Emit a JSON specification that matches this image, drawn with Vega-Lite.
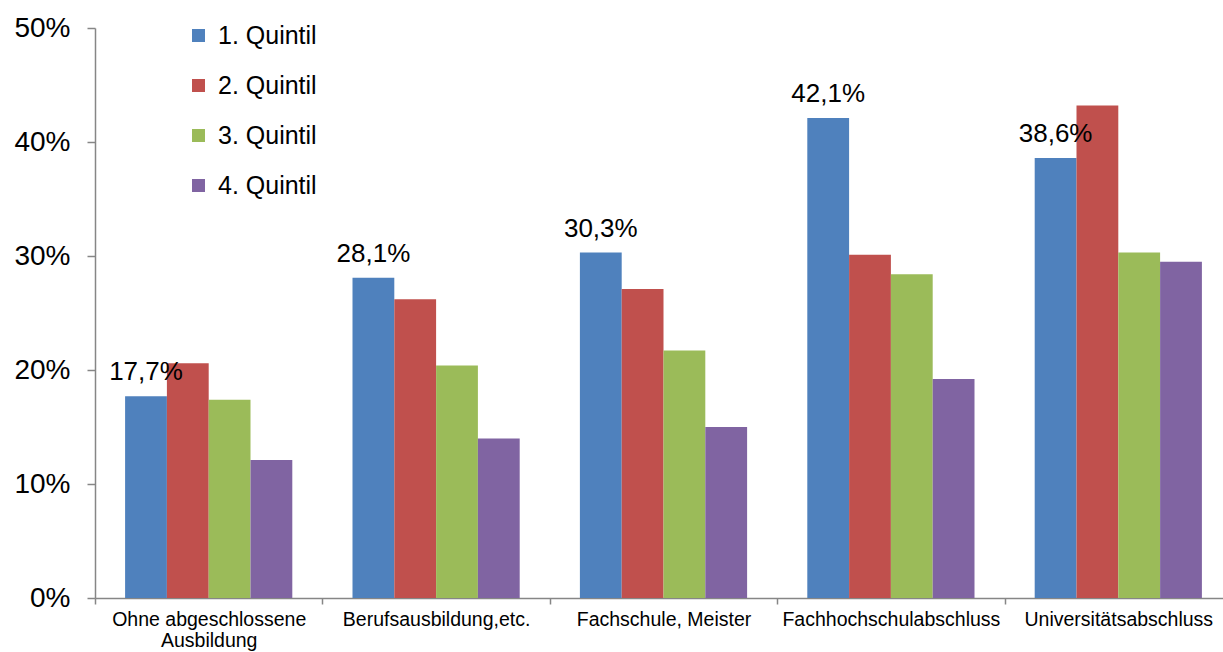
{
  "$schema": "https://vega.github.io/schema/vega-lite/v6.json",
  "width": 1128,
  "height": 570,
  "autosize": {"type": "none"},
  "padding": {"left": 95, "top": 28, "right": 0, "bottom": 54},
  "background": "white",
  "config": {
    "view": {"stroke": null},
    "font": "Liberation Sans",
    "text": {"font": "Liberation Sans"}
  },
  "data": {
    "values": [
      {"g": "Ohne abgeschlossene Ausbildung", "q": "1. Quintil", "v": 0.177, "label": "17,7%"},
      {"g": "Ohne abgeschlossene Ausbildung", "q": "2. Quintil", "v": 0.206, "label": ""},
      {"g": "Ohne abgeschlossene Ausbildung", "q": "3. Quintil", "v": 0.174, "label": ""},
      {"g": "Ohne abgeschlossene Ausbildung", "q": "4. Quintil", "v": 0.121, "label": ""},
      {"g": "Berufsausbildung,etc.", "q": "1. Quintil", "v": 0.281, "label": "28,1%"},
      {"g": "Berufsausbildung,etc.", "q": "2. Quintil", "v": 0.262, "label": ""},
      {"g": "Berufsausbildung,etc.", "q": "3. Quintil", "v": 0.204, "label": ""},
      {"g": "Berufsausbildung,etc.", "q": "4. Quintil", "v": 0.140, "label": ""},
      {"g": "Fachschule, Meister", "q": "1. Quintil", "v": 0.303, "label": "30,3%"},
      {"g": "Fachschule, Meister", "q": "2. Quintil", "v": 0.271, "label": ""},
      {"g": "Fachschule, Meister", "q": "3. Quintil", "v": 0.217, "label": ""},
      {"g": "Fachschule, Meister", "q": "4. Quintil", "v": 0.150, "label": ""},
      {"g": "Fachhochschulabschluss", "q": "1. Quintil", "v": 0.421, "label": "42,1%"},
      {"g": "Fachhochschulabschluss", "q": "2. Quintil", "v": 0.301, "label": ""},
      {"g": "Fachhochschulabschluss", "q": "3. Quintil", "v": 0.284, "label": ""},
      {"g": "Fachhochschulabschluss", "q": "4. Quintil", "v": 0.192, "label": ""},
      {"g": "Universitätsabschluss", "q": "1. Quintil", "v": 0.386, "label": "38,6%"},
      {"g": "Universitätsabschluss", "q": "2. Quintil", "v": 0.432, "label": ""},
      {"g": "Universitätsabschluss", "q": "3. Quintil", "v": 0.303, "label": ""},
      {"g": "Universitätsabschluss", "q": "4. Quintil", "v": 0.295, "label": ""}
    ]
  },
  "encoding": {
    "x": {
      "field": "g",
      "type": "nominal",
      "sort": null,
      "scale": {"range": [0, 1137], "paddingInner": 0, "paddingOuter": 0},
      "axis": {
        "title": null,
        "labelAngle": 0,
        "labelFontSize": 19.5,
        "labelColor": "black",
        "labelPadding": 6,
        "labelLineHeight": 21,
        "labelLimit": 400,
        "labelExpr": "datum.value == 'Ohne abgeschlossene Ausbildung' ? ['Ohne abgeschlossene', 'Ausbildung'] : datum.value",
        "tickBand": "extent",
        "tickSize": 6,
        "tickColor": "#868686",
        "tickWidth": 1.5,
        "domainColor": "#868686",
        "domainWidth": 1.5
      }
    },
    "xOffset": {
      "field": "q",
      "type": "nominal",
      "sort": null,
      "scale": {"paddingInner": 0, "paddingOuter": 0.72}
    },
    "y": {
      "field": "v",
      "type": "quantitative",
      "scale": {"domain": [0, 0.5], "nice": false},
      "axis": {
        "title": null,
        "format": ".0%",
        "values": [0, 0.1, 0.2, 0.3, 0.4, 0.5],
        "grid": false,
        "labelFontSize": 28,
        "labelColor": "black",
        "labelPadding": 17,
        "tickSize": 8,
        "tickColor": "#868686",
        "tickWidth": 1.5,
        "domainColor": "#868686",
        "domainWidth": 1.5
      }
    }
  },
  "layer": [
    {
      "mark": {"type": "bar"},
      "encoding": {
        "color": {
          "field": "q",
          "type": "nominal",
          "sort": null,
          "scale": {
            "domain": ["1. Quintil", "2. Quintil", "3. Quintil", "4. Quintil"],
            "range": ["#4F81BD", "#C0504D", "#9BBB59", "#8064A2"]
          },
          "legend": {
            "title": null,
            "orient": "none",
            "legendX": 91,
            "legendY": -5,
            "symbolType": "square",
            "symbolSize": 169,
            "symbolStrokeWidth": 0,
            "symbolOpacity": 1,
            "labelFontSize": 25,
            "labelColor": "black",
            "labelOffset": 7,
            "rowPadding": 24
          }
        }
      }
    },
    {
      "transform": [{"filter": "datum.label != ''"}],
      "mark": {"type": "text", "baseline": "alphabetic", "dy": -16, "fontSize": 26, "color": "black"},
      "encoding": {
        "text": {"field": "label"}
      }
    }
  ]
}
